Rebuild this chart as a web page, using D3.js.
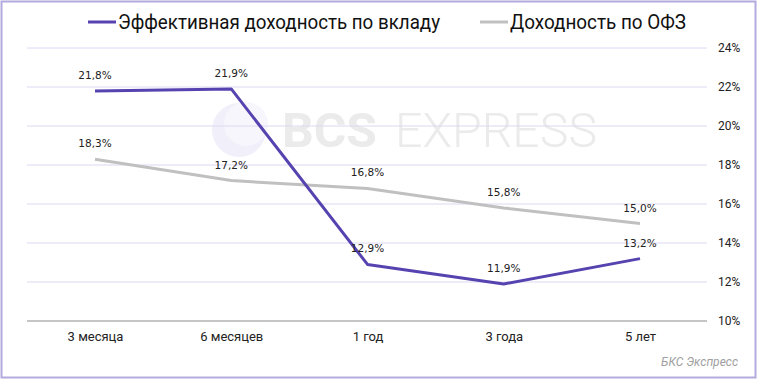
<!DOCTYPE html>
<html><head><meta charset="utf-8">
<script src="https://cdn.jsdelivr.net/npm/d3@7"></script>
<style>html,body{margin:0;padding:0;background:#fff;}svg{display:block;}</style>
</head><body>
<script>
const categories = ["3 месяца", "6 месяцев", "1 год", "3 года", "5 лет"];
const depositYield = [21.8, 21.9, 12.9, 11.9, 13.2];
const ofzYield = [18.3, 17.2, 16.8, 15.8, 15.0];
const yTicks = [10, 12, 14, 16, 18, 20, 22, 24];
const seriesNames = ["Эффективная доходность по вкладу", "Доходность по ОФЗ"];

const W = 757, H = 379;
const svg = d3.select("body").append("svg").attr("width", W).attr("height", H);

svg.append("rect").attr("x", 1.5).attr("y", 1.5).attr("width", W - 3).attr("height", H - 3)
  .attr("fill", "#fff").attr("stroke", "#b3aade").attr("stroke-width", 2);

const x = d3.scalePoint().domain(categories).range([95, 640]);
const y = d3.scaleLinear().domain([10, 24]).range([321, 48]);
const fmt = v => v.toFixed(1).replace(".", ",") + "%";

// watermark
const wm = svg.append("g");
wm.append("circle").attr("cx", 239).attr("cy", 130).attr("r", 27).attr("fill", "#f1effa");
wm.append("circle").attr("cx", 246).attr("cy", 124).attr("r", 22).attr("fill", "#f7f6fc");
wm.append("text").attr("x", 282).attr("y", 147).attr("font-family", "Roboto, sans-serif")
  .attr("font-size", 48).attr("font-weight", 700).attr("fill", "#ebebeb").text("BCS")
  .attr("textLength", 95).attr("lengthAdjust", "spacingAndGlyphs");
wm.append("text").attr("x", 395).attr("y", 147).attr("font-family", "Roboto, sans-serif")
  .attr("font-size", 48).attr("font-weight", 300).attr("fill", "#ebebeb").text("EXPRESS")
  .attr("textLength", 202).attr("lengthAdjust", "spacingAndGlyphs");

// gridlines
svg.append("g").selectAll("line").data(yTicks.filter(t => t > 10)).join("line")
  .attr("x1", 27).attr("x2", 707).attr("y1", d => y(d)).attr("y2", d => y(d))
  .attr("stroke", "#dcd8f0").attr("stroke-width", 1);
svg.append("line").attr("x1", 27).attr("x2", 707).attr("y1", y(10)).attr("y2", y(10))
  .attr("stroke", "#8a8a8a").attr("stroke-width", 1);

// right axis
const yAxis = d3.axisRight(y).tickValues(yTicks).tickFormat(d => d + "%").tickSize(0).tickPadding(0);
const ya = svg.append("g").attr("transform", "translate(718,0)").call(yAxis);
ya.select(".domain").remove();
ya.selectAll("text").attr("font-family", "Roboto, sans-serif").attr("font-size", 12).attr("fill", "#222");

// x axis
const xAxis = d3.axisBottom(x).tickSize(0).tickPadding(0);
const xa = svg.append("g").attr("transform", "translate(0,332)").call(xAxis);
xa.select(".domain").remove();
xa.selectAll("text").attr("font-family", "Roboto, sans-serif").attr("font-size", 13).attr("fill", "#222");

// lines
const line = d3.line().x((d, i) => x(categories[i])).y(d => y(d));
svg.append("path").datum(ofzYield).attr("d", line).attr("fill", "none")
  .attr("stroke", "#c0c0c0").attr("stroke-width", 3).attr("stroke-linejoin", "round");
svg.append("path").datum(depositYield).attr("d", line).attr("fill", "none")
  .attr("stroke", "#5643b0").attr("stroke-width", 3).attr("stroke-linejoin", "round");

// labels
[ofzYield, depositYield].forEach(s => {
  svg.append("g").selectAll("text").data(s).join("text")
    .attr("x", (d, i) => x(categories[i])).attr("y", d => y(d) - 12)
    .attr("text-anchor", "middle").attr("font-family", "'DejaVu Sans', Verdana, sans-serif")
    .attr("font-size", 10.5).attr("fill", "#222").text(fmt);
});

// legend
const leg = [{x: 88, c: "#5643b0", t: seriesNames[0], w: 322}, {x: 480, c: "#c0c0c0", t: seriesNames[1], w: 176}];
leg.forEach(l => {
  svg.append("line").attr("x1", l.x).attr("x2", l.x + 28).attr("y1", 22).attr("y2", 22)
    .attr("stroke", l.c).attr("stroke-width", 3);
  svg.append("text").attr("x", l.x + 30).attr("y", 29).attr("font-family", "Roboto, sans-serif")
    .attr("font-size", 20).attr("fill", "#111").text(l.t)
    .attr("textLength", l.w).attr("lengthAdjust", "spacingAndGlyphs");
});

// source
svg.append("text").attr("x", 738).attr("y", 366).attr("text-anchor", "end")
  .attr("font-family", "Roboto, sans-serif").attr("font-style", "italic")
  .attr("font-size", 12).attr("fill", "#a0a0a0").text("БКС Экспресс");
</script>
</body></html>
